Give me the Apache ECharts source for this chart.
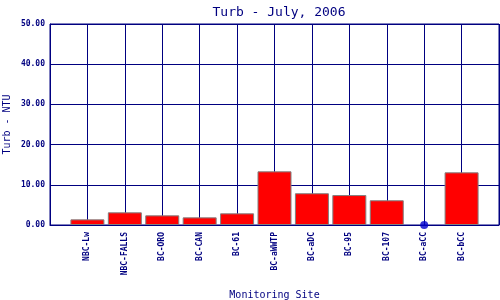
<!DOCTYPE html>
<html><head><meta charset="utf-8">
<script src="https://cdn.jsdelivr.net/npm/echarts@6/dist/echarts.min.js"></script>
<style>html,body{margin:0;padding:0;background:#fff}#c{width:500px;height:300px}</style>
</head><body><div id="c"></div>
<script>
var sites = ['NBC-Lw','NBC-FALLS','BC-ORO','BC-CAN','BC-61','BC-aWWTP','BC-aDC','BC-95','BC-107','BC-aCC','BC-bCC'];
var turb = [1.4, 3.15, 2.4, 1.9, 2.9, 13.35, 7.9, 7.45, 6.15, 0, 13.1];
var yTicks = [0, 10, 20, 30, 40, 50];

var cats = [''].concat(sites, ['']);
var barData = ['-'].concat(turb.map(function(v){return v > 0 ? v : '-';}), ['-']);
var dotData = ['-'].concat(turb.map(function(v){return v === 0 ? v : '-';}), ['-']);
var navy = '#000080';
var mono = 'DejaVu Sans Mono';
var chart = echarts.init(document.getElementById('c'));
chart.setOption({
  animation: false,
  backgroundColor: '#fff',
  title: {text: 'Turb - July, 2006', left: 274, top: 1, textAlign: 'center',
    textStyle: {color: navy, fontFamily: mono, fontSize: 13, fontWeight: 'normal'}},
  grid: {left: 50, right: 1, top: 24, bottom: 75, show: true, borderColor: navy, borderWidth: 1,
    backgroundColor: '#fff', containLabel: false, outerBoundsMode: 'none'},
  xAxis: {type: 'category', data: cats, boundaryGap: false,
    name: 'Monitoring Site', nameLocation: 'middle', nameGap: 65, nameMoveOverlap: false,
    nameTextStyle: {color: navy, fontFamily: mono, fontSize: 10},
    axisLine: {lineStyle: {color: navy, width: 1}}, axisTick: {show: false},
    axisLabel: {rotate: 90, interval: 0, margin: 7, color: navy, fontFamily: mono, fontSize: 8, fontWeight: 'bold'},
    splitLine: {show: true, lineStyle: {color: navy, width: 1}}},
  yAxis: {type: 'value', min: yTicks[0], max: yTicks[yTicks.length-1], interval: 10,
    name: 'Turb - NTU', nameLocation: 'middle', nameGap: 38, nameRotate: 90, nameMoveOverlap: false,
    nameTextStyle: {color: navy, fontFamily: mono, fontSize: 10},
    axisLine: {show: true, lineStyle: {color: navy, width: 1}}, axisTick: {show: false},
    axisLabel: {margin: 5, color: navy, fontFamily: mono, fontSize: 8, fontWeight: 'bold',
      formatter: function(v){return v.toFixed(2);}},
    splitLine: {show: true, lineStyle: {color: navy, width: 1}}},
  series: [
    {type: 'bar', data: barData, barWidth: 34,
      itemStyle: {color: '#ff0000', borderColor: '#808080', borderWidth: 1}},
    {type: 'scatter', data: dotData, symbol: 'circle', symbolSize: 8,
      itemStyle: {color: '#0000cc'}, z: 5}
  ]
});
</script></body></html>
